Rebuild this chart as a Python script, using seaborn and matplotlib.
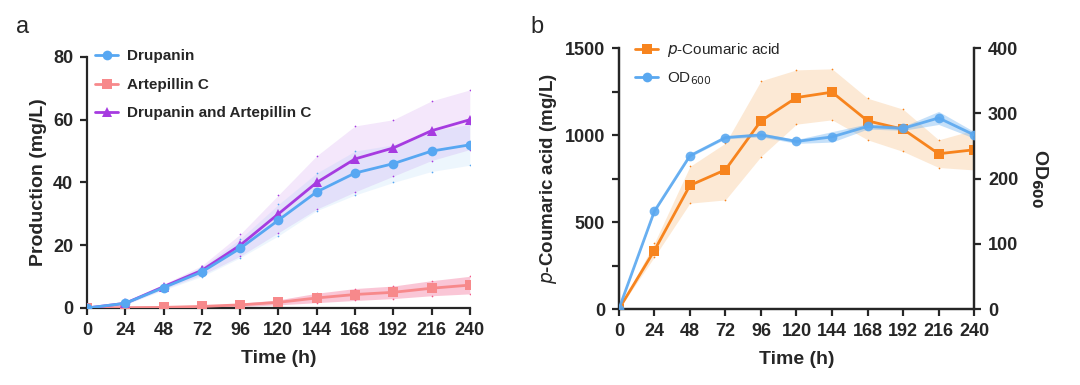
import numpy as np
import pandas as pd
import matplotlib
matplotlib.use("Agg")
import matplotlib.pyplot as plt
from matplotlib.lines import Line2D
import seaborn as sns

# ---------------- data ----------------
time_h = [0, 24, 48, 72, 96, 120, 144, 168, 192, 216, 240]

drupanin = [0, 1.5, 6.5, 11.5, 19, 28, 37, 43, 46, 50, 52]
drupanin_sd = [0.2, 0.4, 0.8, 1.5, 3.0, 5.0, 6.0, 7.0, 6.0, 6.5, 6.5]
artepillin = [0, 0.1, 0.2, 0.5, 1.0, 1.8, 3.2, 4.3, 5.0, 6.3, 7.3]
artepillin_sd = [0.1, 0.1, 0.2, 0.3, 0.5, 0.8, 1.5, 1.9, 2.0, 2.4, 2.8]
combined = [0, 1.5, 6.8, 12, 20, 30, 40, 47.5, 51, 56.5, 60]
combined_sd = [0.2, 0.4, 0.8, 1.5, 3.5, 6.0, 8.5, 10.5, 9.0, 9.5, 9.5]

coumaric = [0, 337, 711, 801, 1082, 1216, 1247, 1082, 1034, 893, 916]
coumaric_lo = [0, 300, 609, 628, 877, 1063, 1088, 973, 906, 814, 800]
coumaric_hi = [0, 380, 820, 954, 1312, 1375, 1381, 1212, 1149, 973, 1030]

od600 = [0, 150, 235, 263, 267, 257, 264, 280, 277, 293, 267]
od600_sd = [0, 2, 2, 2, 3, 3, 8, 4, 3, 10, 5]

x_ticks = [0, 24, 48, 72, 96, 120, 144, 168, 192, 216, 240]

# ---------------- style ----------------
sns.set_theme(style="ticks")
plt.rcParams['font.family'] = ['Liberation Sans', 'DejaVu Sans']
plt.rcParams['axes.linewidth'] = 1.6
plt.rcParams['xtick.major.width'] = 1.6
plt.rcParams['ytick.major.width'] = 1.6
plt.rcParams['ytick.minor.width'] = 1.6
plt.rcParams['xtick.major.size'] = 5
plt.rcParams['ytick.major.size'] = 5
plt.rcParams['ytick.minor.size'] = 5

c_dru = "#57A7F2"
c_art = "#F7898B"
c_comb = "#A63BE0"
c_cou = "#F7841E"
c_od = "#5AA8F0"

fig = plt.figure(figsize=(10.8, 3.85), dpi=100)
axA = fig.add_axes([0.0806, 0.2, 0.3544, 0.652])
axB = fig.add_axes([0.573, 0.197, 0.329, 0.678])
axB2 = axB.twinx()

t = np.array(time_h)

def band(ax, y, sd, color, alpha):
    y = np.array(y); sd = np.array(sd)
    ax.fill_between(t, y - sd, y + sd, color=color, alpha=alpha, lw=0, zorder=1)
    ax.scatter(t, y + sd, s=1.5, color=color, zorder=2, lw=0)
    ax.scatter(t, y - sd, s=1.5, color=color, zorder=2, lw=0)

# ---------------- panel a ----------------
band(axA, combined, combined_sd, c_comb, 0.12)
band(axA, drupanin, drupanin_sd, c_dru, 0.10)
band(axA, artepillin, artepillin_sd, "#F25C8A", 0.35)

dfA = pd.DataFrame({"t": time_h, "d": drupanin, "a": artepillin, "c": combined})
sns.lineplot(data=dfA, x="t", y="a", ax=axA, color=c_art, marker="s", markersize=7,
             markeredgewidth=0, lw=2, label="Artepillin C", zorder=3)
sns.lineplot(data=dfA, x="t", y="c", ax=axA, color=c_comb, marker="^", markersize=7,
             markeredgewidth=0, lw=2, label="Drupanin and Artepillin C", zorder=4)
sns.lineplot(data=dfA, x="t", y="d", ax=axA, color=c_dru, marker="o", markersize=7,
             markeredgewidth=0, lw=2, label="Drupanin", zorder=5)

axA.set_xlim(0, 240)
axA.set_ylim(0, 80)
axA.set_xticks(x_ticks)
axA.set_yticks([0, 20, 40, 60, 80])
axA.set_xlabel("Time (h)", fontsize=14, fontweight="bold", labelpad=8)
axA.set_ylabel("Production (mg/L)", fontsize=14, fontweight="bold", labelpad=4)
axA.tick_params(labelsize=13, pad=5)
for lab in axA.get_xticklabels() + axA.get_yticklabels():
    lab.set_fontweight("bold")
sns.despine(ax=axA)
axA.spines['left'].set_bounds(0, 80)

h, l = axA.get_legend_handles_labels()
order = [2, 0, 1]
axA.legend([h[i] for i in order], [l[i] for i in order], loc="upper left",
           bbox_to_anchor=(-0.015, 1.085), frameon=False,
           prop={"weight": "bold", "size": 11}, labelspacing=0.95,
           handlelength=1.5, handletextpad=0.6)

# ---------------- panel b ----------------
axB.fill_between(t, coumaric_lo, coumaric_hi, color="#F9C996", alpha=0.4, lw=0, zorder=1)
axB.scatter(t, coumaric_lo, s=1.5, color=c_cou, lw=0, zorder=2)
axB.scatter(t, coumaric_hi, s=1.5, color=c_cou, lw=0, zorder=2)
dfB = pd.DataFrame({"t": time_h, "c": coumaric, "o": od600})
sns.lineplot(data=dfB, x="t", y="c", ax=axB, color=c_cou, marker="s", markersize=7,
             markeredgewidth=0, lw=2, zorder=3, legend=False)

odl = np.array(od600) - np.array(od600_sd)
odh = np.array(od600) + np.array(od600_sd)
axB2.fill_between(t, odl, odh, color=c_od, alpha=0.35, lw=0, zorder=1)
sns.lineplot(data=dfB, x="t", y="o", ax=axB2, color=c_od, marker="o", markersize=7,
             markeredgewidth=0, lw=2, alpha=0.9, zorder=3, legend=False)

axB.set_xlim(0, 240)
axB.set_ylim(0, 1500)
axB2.set_ylim(0, 400)
axB.set_xticks(x_ticks)
axB.set_yticks([0, 500, 1000, 1500])
axB.set_yticks([250, 750, 1250], minor=True)
axB2.set_yticks([0, 100, 200, 300, 400])
axB.set_xlabel("Time (h)", fontsize=14, fontweight="bold", labelpad=8)
axB.set_ylabel("$\\bf{\\it{p}}$-Coumaric acid (mg/L)", fontsize=13.5, fontweight="bold", labelpad=4)
axB2.set_ylabel("OD$_{\\bf{600}}$", fontsize=14, fontweight="bold", rotation=270, labelpad=22)
axB.tick_params(labelsize=13, pad=5)
axB2.tick_params(labelsize=13, pad=5)
for lab in axB.get_xticklabels() + axB.get_yticklabels() + axB2.get_yticklabels():
    lab.set_fontweight("bold")
axB.spines['top'].set_visible(False)
axB2.spines['top'].set_visible(False)
axB.set_zorder(axB2.get_zorder() - 1)
axB.patch.set_visible(False)

hb = [Line2D([], [], color=c_cou, marker="s", markersize=7, lw=2, markeredgewidth=0),
      Line2D([], [], color=c_od, marker="o", markersize=7, lw=2, markeredgewidth=0)]
axB2.legend(hb, ["$\\it{p}$-Coumaric acid", "OD$_{600}$"], loc="upper left",
            bbox_to_anchor=(0.007, 1.08), frameon=False, fontsize=11, labelspacing=0.75,
            handlelength=1.5, handletextpad=0.6)

fig.text(0.015, 0.915, "a", fontsize=17)
fig.text(0.491, 0.915, "b", fontsize=17)

fig.savefig("out.png", dpi=100)
